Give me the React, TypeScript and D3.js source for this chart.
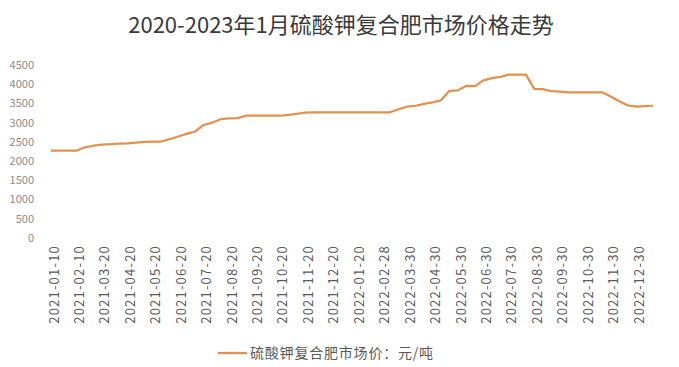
import * as React from 'react';
import { useRef, useEffect } from 'react';
import * as d3 from 'd3';

const title = '2020-2023年1月硫酸钾复合肥市场价格走势';
const seriesName = '硫酸钾复合肥市场价：元/吨';

const dates = [
  '2021-01-10', '2021-01-20', '2021-01-30', '2021-02-10', '2021-02-20', '2021-03-10',
  '2021-03-20', '2021-03-31', '2021-04-10', '2021-04-20', '2021-04-30', '2021-05-10',
  '2021-05-20', '2021-05-31', '2021-06-10', '2021-06-20', '2021-06-30', '2021-07-10',
  '2021-07-20', '2021-07-31', '2021-08-10', '2021-08-20', '2021-08-31', '2021-09-10',
  '2021-09-20', '2021-09-30', '2021-10-10', '2021-10-20', '2021-10-31', '2021-11-10',
  '2021-11-20', '2021-11-30', '2021-12-10', '2021-12-20', '2021-12-31', '2022-01-10',
  '2022-01-20', '2022-02-10', '2022-02-20', '2022-02-28', '2022-03-10', '2022-03-20',
  '2022-03-30', '2022-04-10', '2022-04-20', '2022-04-30', '2022-05-10', '2022-05-20',
  '2022-05-30', '2022-06-10', '2022-06-20', '2022-06-30', '2022-07-10', '2022-07-20',
  '2022-07-30', '2022-08-10', '2022-08-20', '2022-08-30', '2022-09-10', '2022-09-20',
  '2022-09-30', '2022-10-10', '2022-10-20', '2022-10-30', '2022-11-10', '2022-11-20',
  '2022-11-30', '2022-12-10', '2022-12-20', '2022-12-30', '2023-01-10', '2023-01-20',
];

const prices = [
  2270, 2270, 2270, 2270, 2360, 2400, 2430, 2440, 2456, 2460, 2480, 2500,
  2510, 2510, 2570, 2640, 2710, 2770, 2940, 3000, 3090, 3110, 3120, 3180,
  3180, 3180, 3180, 3180, 3200, 3230, 3260, 3270, 3270, 3270, 3270, 3270,
  3270, 3270, 3270, 3270, 3270, 3350, 3420, 3440, 3490, 3530, 3580, 3830,
  3840, 3960, 3950, 4100, 4160, 4190, 4250, 4250, 4250, 3880, 3870, 3820,
  3810, 3790, 3790, 3790, 3790, 3790, 3680, 3560, 3450, 3420, 3430, 3440,
];

const yTicks = [0, 500, 1000, 1500, 2000, 2500, 3000, 3500, 4000, 4500];

// every third date gets a label
const labelDates = dates.filter((_, i) => i % 3 === 0 && i <= 72);

export default function App() {
  const svgRef = useRef<SVGSVGElement | null>(null);

  useEffect(() => {
    if (!svgRef.current) return;
    const svg = d3.select(svgRef.current);
    svg.selectAll('*').remove();

    const width = 679;
    const height = 367;
    const font = '"Noto Sans CJK SC", "Noto Sans", sans-serif';

    svg.attr('width', width).attr('height', height);

    const x = d3.scalePoint<string>().domain(dates).range([51, 653]);
    const y = d3.scaleLinear().domain([0, 4500]).range([238, 65]);

    // title
    svg.append('text')
      .attr('x', 341)
      .attr('y', 33)
      .attr('text-anchor', 'middle')
      .attr('font-family', font)
      .attr('font-size', 22)
      .attr('fill', '#3a3a3a')
      .text(title);

    // y labels
    svg.append('g')
      .selectAll('text')
      .data(yTicks)
      .join('text')
      .attr('x', 34)
      .attr('y', d => y(d))
      .attr('dy', '0.35em')
      .attr('text-anchor', 'end')
      .attr('font-family', font)
      .attr('font-size', 11)
      .attr('fill', '#8c8c8c')
      .text(d => d);

    // x labels, rotated
    svg.append('g')
      .selectAll('text')
      .data(labelDates)
      .join('text')
      .attr('transform', d => `translate(${(x(d) ?? 0) + 3}, 245) rotate(-90)`)
      .attr('dy', '0.35em')
      .attr('text-anchor', 'end')
      .attr('font-family', font)
      .attr('font-size', 13)
      .attr('letter-spacing', 1.2)
      .attr('fill', '#595959')
      .text(d => d);

    // price line
    const line = d3.line<number>()
      .x((_, i) => x(dates[i]) ?? 0)
      .y(d => y(d));

    svg.append('path')
      .datum(prices)
      .attr('d', line)
      .attr('fill', 'none')
      .attr('stroke', '#E3904F')
      .attr('stroke-width', 2.25)
      .attr('stroke-linejoin', 'round');

    // legend
    svg.append('line')
      .attr('x1', 218)
      .attr('x2', 247)
      .attr('y1', 353)
      .attr('y2', 353)
      .attr('stroke', '#E3904F')
      .attr('stroke-width', 2.25);

    svg.append('text')
      .attr('x', 250)
      .attr('y', 353)
      .attr('dy', '0.35em')
      .attr('font-family', font)
      .attr('font-size', 14)
      .attr('letter-spacing', 0.8)
      .attr('fill', '#595959')
      .text(seriesName);
  }, []);

  return (
    <svg
      ref={svgRef}
      style={{ position: 'absolute', left: 0, top: 0, display: 'block', background: '#fff' }}
    />
  );
}
